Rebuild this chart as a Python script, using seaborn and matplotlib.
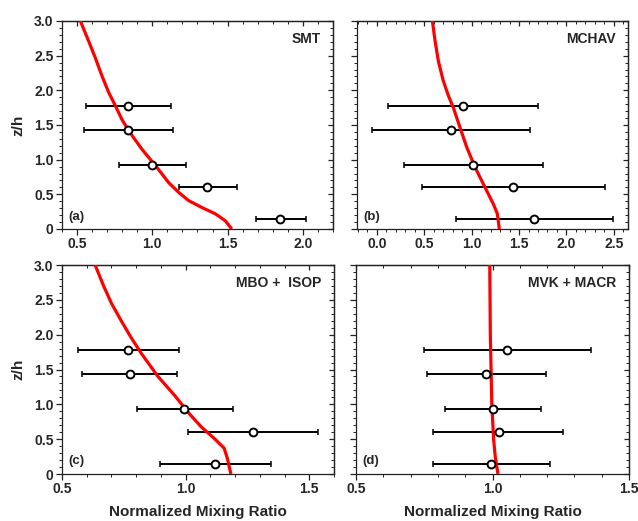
import numpy as np
import pandas as pd
import matplotlib
matplotlib.use("Agg")
import matplotlib.pyplot as plt
import seaborn as sns
from matplotlib.ticker import MultipleLocator, FixedLocator, FixedFormatter

sns.set_style("ticks")
plt.rcParams['font.family'] = ['Liberation Sans', 'DejaVu Sans']
plt.rcParams['font.weight'] = 'bold'

# ---- data ----
heights = [1.78, 1.43, 0.93, 0.61, 0.15]

smt_mean = [0.84, 0.84, 1.00, 1.365, 1.85]
smt_lo = [0.56, 0.545, 0.78, 1.175, 1.69]
smt_hi = [1.125, 1.14, 1.225, 1.56, 2.02]

mchav_mean = [0.905, 0.78, 1.01, 1.44, 1.66]
mchav_lo = [0.115, -0.05, 0.29, 0.475, 0.83]
mchav_hi = [1.70, 1.615, 1.75, 2.405, 2.49]

mbo_mean = [0.766, 0.774, 0.995, 1.272, 1.12]
mbo_lo = [0.563, 0.58, 0.802, 1.01, 0.896]
mbo_hi = [0.972, 0.967, 1.191, 1.536, 1.346]

mvk_mean = [1.054, 0.977, 1.00, 1.022, 0.995]
mvk_lo = [0.748, 0.759, 0.826, 0.781, 0.781]
mvk_hi = [1.362, 1.195, 1.177, 1.26, 1.211]

smt_curve_z = [3.0, 2.71, 2.47, 2.21, 1.97, 1.78, 1.58, 1.42, 1.15, 0.89, 0.67, 0.53, 0.41, 0.31, 0.22, 0.12, 0.0]
smt_curve_x = [0.522, 0.577, 0.621, 0.665, 0.71, 0.754, 0.798, 0.842, 0.931, 1.03, 1.108, 1.174, 1.241, 1.329, 1.418, 1.484, 1.528]

mchav_curve_z = [3.0, 2.71, 2.42, 2.14, 1.92, 1.75, 1.46, 1.18, 0.89, 0.60, 0.36, 0.22, 0.0]
mchav_curve_x = [0.586, 0.614, 0.649, 0.70, 0.755, 0.807, 0.878, 0.948, 1.036, 1.141, 1.229, 1.271, 1.292]

mbo_curve_z = [3.0, 2.71, 2.45, 2.19, 1.95, 1.73, 1.40, 1.13, 0.89, 0.68, 0.51, 0.37, 0.22, 0.0]
mbo_curve_x = [0.634, 0.667, 0.70, 0.741, 0.781, 0.821, 0.888, 0.955, 1.009, 1.062, 1.116, 1.156, 1.169, 1.183]

mvk_curve_z = [3.0, 2.0, 1.0, 0.5, 0.25, 0.0]
mvk_curve_x = [0.99, 0.992, 0.9975, 1.004, 1.01, 1.02]

panels = [
    dict(name="SMT", letter="(a)", mean=smt_mean, lo=smt_lo, hi=smt_hi,
         cz=smt_curve_z, cx=smt_curve_x, xlim=(0.4, 2.2),
         xticks=[0.5, 1.0, 1.5, 2.0], xlabels=["0.5", "1.0", "1.5", "2.0"]),
    dict(name="MCHAV", letter="(b)", mean=mchav_mean, lo=mchav_lo, hi=mchav_hi,
         cz=mchav_curve_z, cx=mchav_curve_x, xlim=(-0.21, 2.65),
         xticks=[0.0, 0.5, 1.0, 1.5, 2.0, 2.5], xlabels=["0.0", "0.5", "1.0", "1.5", "2.0", "2.5"]),
    dict(name="MBO +  ISOP", letter="(c)", mean=mbo_mean, lo=mbo_lo, hi=mbo_hi,
         cz=mbo_curve_z, cx=mbo_curve_x, xlim=(0.5, 1.6),
         xticks=[0.5, 1.0, 1.5], xlabels=["0.5", "1.0", "1.5"]),
    dict(name="MVK + MACR", letter="(d)", mean=mvk_mean, lo=mvk_lo, hi=mvk_hi,
         cz=mvk_curve_z, cx=mvk_curve_x, xlim=(0.5, 1.5),
         xticks=[0.5, 1.0, 1.5], xlabels=["0.5", "1.0", "1.5"]),
]

yticks = [0, 0.5, 1.0, 1.5, 2.0, 2.5, 3.0]
ylabels = ["0", "0.5", "1.0", "1.5", "2.0", "2.5", "3.0"]

fig = plt.figure(figsize=(6.38, 5.21), dpi=100)
W = 638.0
H = 521.0
rects = [
    (62, 21, 333, 229),
    (357, 21, 628, 229),
    (62, 265, 334, 474),
    (356, 265, 629, 474),
]

for i, (p, r) in enumerate(zip(panels, rects)):
    l, t, rr, b = r
    ax = fig.add_axes([l / W, 1 - b / H, (rr - l) / W, (b - t) / H])
    # error bars
    mean = np.array(p["mean"])
    err = np.vstack([mean - np.array(p["lo"]), np.array(p["hi"]) - mean])
    ax.errorbar(mean, heights, xerr=err, fmt="none", ecolor="black",
                elinewidth=1.4, capsize=2.5, capthick=1.1, zorder=2)
    # model curve
    cdf = pd.DataFrame({"x": p["cx"], "z": p["cz"]})
    sns.lineplot(data=cdf, x="x", y="z", orient="y", sort=False,
                 color="#ff0000", linewidth=2.3, ax=ax, zorder=3)
    line = ax.get_lines()[-1]
    line.set_solid_joinstyle("round")
    line.set_solid_capstyle("butt")
    # observations
    odf = pd.DataFrame({"x": mean, "z": heights})
    sns.scatterplot(data=odf, x="x", y="z", marker="o", s=32,
                    facecolor="white", edgecolor="black", linewidth=1.4,
                    ax=ax, zorder=4)

    ax.set_xlim(*p["xlim"])
    ax.set_ylim(0, 3.0)
    ax.xaxis.set_major_locator(FixedLocator(p["xticks"]))
    ax.xaxis.set_major_formatter(FixedFormatter(p["xlabels"]))
    ax.xaxis.set_minor_locator(MultipleLocator(0.1))
    ax.yaxis.set_major_locator(FixedLocator(yticks))
    ax.yaxis.set_major_formatter(FixedFormatter(ylabels))
    ax.yaxis.set_minor_locator(MultipleLocator(0.1))
    ax.tick_params(which="major", direction="out", length=4, width=0.9,
                   labelsize=10, pad=2, color="#222222")
    ax.tick_params(which="minor", direction="out", length=2.2, width=0.7, color="#222222")
    for lab in ax.get_xticklabels() + ax.get_yticklabels():
        lab.set_fontweight("bold")
    if i in (1, 3):
        ax.tick_params(axis="y", labelleft=False)
    for s in ax.spines.values():
        s.set_visible(True)
        s.set_linewidth(0.9)
        s.set_color("#222222")

    # mirrored inward ticks on top & right
    axt = ax.secondary_xaxis("top")
    axt.xaxis.set_major_locator(FixedLocator(p["xticks"]))
    axt.xaxis.set_minor_locator(MultipleLocator(0.1))
    axt.tick_params(which="major", direction="in", length=3.5, width=0.9, labeltop=False, color="#222222")
    axt.tick_params(which="minor", direction="in", length=2, width=0.7, color="#222222")
    axt.spines["top"].set_linewidth(0.9)
    axr = ax.secondary_yaxis("right")
    axr.yaxis.set_major_locator(FixedLocator(yticks))
    axr.yaxis.set_minor_locator(MultipleLocator(0.1))
    axr.tick_params(which="major", direction="in", length=3.5, width=0.9, labelright=False, color="#222222")
    axr.tick_params(which="minor", direction="in", length=2, width=0.7, color="#222222")
    axr.spines["right"].set_linewidth(0.9)

    ax.set_xlabel("")
    ax.set_ylabel("")
    if i in (0, 2):
        ax.set_ylabel("z/h", fontsize=11, fontweight="bold", labelpad=6)
    if i in (2, 3):
        ax.set_xlabel("Normalized Mixing Ratio", fontsize=11, fontweight="bold", labelpad=6)

    ax.text(0.955, 0.915, p["name"], transform=ax.transAxes, ha="right", va="center",
            fontsize=10, fontweight="bold")
    ax.text(0.025, 0.06, p["letter"], transform=ax.transAxes, ha="left", va="center",
            fontsize=9.5, fontweight="bold")

fig.savefig("out.png", dpi=100)
